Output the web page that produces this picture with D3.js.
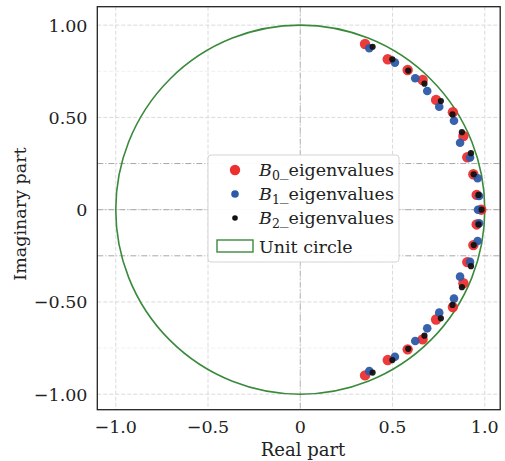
<!DOCTYPE html>
<html>
<head>
<meta charset="utf-8">
<script src="https://cdn.jsdelivr.net/npm/d3@7"></script>
<style>
  html, body { margin: 0; padding: 0; background: #fff; }
  svg text { font-family: "DejaVu Serif", "Liberation Serif", serif; fill: #222; }
</style>
</head>
<body>
<svg id="chart" width="505" height="461"></svg>
<script>
// ---- data ----
const b0Re = [0.351, 0.474, 0.582, 0.663, 0.736, 0.827, 0.884, 0.905, 0.938, 0.956, 0.981,
              0.956, 0.938, 0.905, 0.884, 0.827, 0.736, 0.663, 0.582, 0.474, 0.351];
const b0Im = [0.898, 0.815, 0.757, 0.703, 0.595, 0.528, 0.399, 0.284, 0.192, 0.080, 0.000,
              -0.080, -0.192, -0.284, -0.399, -0.528, -0.595, -0.703, -0.757, -0.815, -0.898];
const b1Re = [0.374, 0.513, 0.623, 0.688, 0.753, 0.833, 0.866, 0.920, 0.961, 0.969, 0.963,
              0.969, 0.961, 0.920, 0.866, 0.833, 0.753, 0.688, 0.623, 0.513, 0.374];
const b1Im = [0.875, 0.797, 0.712, 0.643, 0.558, 0.482, 0.363, 0.283, 0.170, 0.074, 0.000,
              -0.074, -0.170, -0.283, -0.363, -0.482, -0.558, -0.643, -0.712, -0.797, -0.875];
const b2Re = [0.392, 0.499, 0.585, 0.673, 0.762, 0.825, 0.876, 0.925, 0.940, 0.966, 0.983,
              0.966, 0.940, 0.925, 0.876, 0.825, 0.762, 0.673, 0.585, 0.499, 0.392];
const b2Im = [0.883, 0.815, 0.754, 0.683, 0.589, 0.516, 0.420, 0.306, 0.192, 0.080, 0.000,
              -0.080, -0.192, -0.306, -0.420, -0.516, -0.589, -0.683, -0.754, -0.815, -0.883];
const xTicks = [-1.0, -0.5, 0, 0.5, 1.0];
const xTickLabels = ["\u22121.0", "\u22120.5", "0", "0.5", "1.0"];
const yTicks = [1.0, 0.5, 0, -0.5, -1.0];
const yTickLabels = ["1.00", "0.50", "0", "\u22120.50", "\u22121.00"];
const yMinorGrid = [0.75, -0.75];
const refLinesY = [0.25, 0, -0.25];
const refLinesX = [0];
const unitRadius = 1;
const seriesNames = ["0", "1", "2"];

// ---- layout ----
const svg = d3.select("#chart");
const L = 97.3, R = 500.2, T = 6.7, B = 409.7;
const x = d3.scaleLinear().domain([-1.1, 1.0835]).range([L, R]);
const y = d3.scaleLinear().domain([-1.084, 1.1]).range([B, T]);

svg.append("rect").attr("width", 505).attr("height", 461).attr("fill", "#fff");

const g = svg.append("g");
// light grid
g.selectAll(".gx").data(xTicks).enter().append("line")
  .attr("x1", d => x(d)).attr("x2", d => x(d)).attr("y1", T).attr("y2", B)
  .attr("stroke", "#dadada").attr("stroke-width", 1).attr("stroke-dasharray", "4,2");
g.selectAll(".gy").data(yTicks).enter().append("line")
  .attr("y1", d => y(d)).attr("y2", d => y(d)).attr("x1", L).attr("x2", R)
  .attr("stroke", "#dadada").attr("stroke-width", 1).attr("stroke-dasharray", "4,2");
g.selectAll(".gm").data(yMinorGrid).enter().append("line")
  .attr("y1", d => y(d)).attr("y2", d => y(d)).attr("x1", L).attr("x2", R)
  .attr("stroke", "#efefef").attr("stroke-width", 1).attr("stroke-dasharray", "4,2");
// darker reference lines
g.selectAll(".ry").data(refLinesY).enter().append("line")
  .attr("y1", d => y(d)).attr("y2", d => y(d)).attr("x1", L).attr("x2", R)
  .attr("stroke", "#a8a8a8").attr("stroke-width", 1).attr("stroke-dasharray", "6,2,1,2");
g.selectAll(".rx").data(refLinesX).enter().append("line")
  .attr("x1", d => x(d)).attr("x2", d => x(d)).attr("y1", T).attr("y2", B)
  .attr("stroke", "#b8b8b8").attr("stroke-width", 1).attr("stroke-dasharray", "6,2,1,2");

// unit circle
const green = "#3a8a3c";
g.append("ellipse")
  .attr("cx", x(0)).attr("cy", y(0))
  .attr("rx", x(unitRadius) - x(0)).attr("ry", y(0) - y(unitRadius))
  .attr("fill", "none").attr("stroke", green).attr("stroke-width", 1.6);

// points
const series = [
  {re: b0Re, im: b0Im, color: "#ec2f2f", r: 5.2},
  {re: b1Re, im: b1Im, color: "#2d5aa8", r: 4.3},
  {re: b2Re, im: b2Im, color: "#111111", r: 3.1}
];
series.forEach(s => {
  g.append("g").selectAll("circle").data(s.re.map((v, i) => [v, s.im[i]])).enter()
    .append("circle")
    .attr("cx", d => x(d[0])).attr("cy", d => y(d[1]))
    .attr("r", s.r).attr("fill", s.color).attr("fill-opacity", 0.95);
});

// frame
svg.append("rect").attr("x", L).attr("y", T).attr("width", R - L).attr("height", B - T)
  .attr("fill", "none").attr("stroke", "#222").attr("stroke-width", 1.3);

// tick labels
svg.selectAll(".xt").data(xTicks).enter().append("text")
  .attr("x", d => x(d)).attr("y", 432.5).attr("text-anchor", "middle")
  .attr("font-size", 17.5).text((d, i) => xTickLabels[i]);
svg.selectAll(".yt").data(yTicks).enter().append("text")
  .attr("x", 87.5).attr("y", d => y(d) + 6.5).attr("text-anchor", "end")
  .attr("font-size", 17.5).text((d, i) => yTickLabels[i]);

// axis titles
svg.append("text").attr("x", 303).attr("y", 456).attr("text-anchor", "middle")
  .attr("font-size", 18).text("Real part");
svg.append("text").attr("transform", "translate(26,214) rotate(-90)")
  .attr("text-anchor", "middle").attr("font-size", 17.5).text("Imaginary part");

// legend
const lg = svg.append("g");
lg.append("rect").attr("x", 208).attr("y", 155).attr("width", 191).attr("height", 107)
  .attr("rx", 3).attr("fill", "#fff").attr("fill-opacity", 0.95)
  .attr("stroke", "#d4d4d4").attr("stroke-width", 1);
const rowsY = [170, 194, 218];
const legR = [5.2, 3.8, 2.8];
series.forEach((s, i) => {
  lg.append("circle").attr("cx", 235).attr("cy", rowsY[i]).attr("r", legR[i]).attr("fill", s.color);
  const t = lg.append("text").attr("x", 259).attr("y", rowsY[i] + 6).attr("font-size", 17.5);
  t.append("tspan").attr("font-style", "italic").text("B");
  t.append("tspan").attr("font-size", 12.5).attr("dy", 4).text(seriesNames[i]);
  t.append("tspan").attr("dy", -4).text("_eigenvalues");
});
lg.append("rect").attr("x", 217).attr("y", 240).attr("width", 36).attr("height", 12)
  .attr("fill", "#fff").attr("stroke", green).attr("stroke-width", 1.4);
lg.append("text").attr("x", 259).attr("y", 253).attr("font-size", 17.5).text("Unit circle");
</script>
</body>
</html>
